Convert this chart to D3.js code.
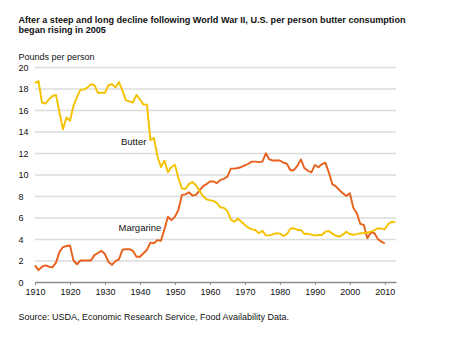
<!DOCTYPE html>
<html>
<head>
<meta charset="utf-8">
<script src="https://cdn.jsdelivr.net/npm/d3@7"></script>
<style>
  body { margin: 0; background: #fff; }
  svg { display: block; font-family: "Liberation Sans", Arial, sans-serif; }
</style>
</head>
<body>
<svg id="chart" width="450" height="345"></svg>
<script>
// Per person consumption, pounds
const butterYears = d3.range(1910, 2014);
const butter = [
  18.5, 18.7, 16.7, 16.6, 17.0, 17.3, 17.4, 15.8, 14.2, 15.3,   // 1910s
  15.0, 16.4, 17.2, 17.9, 17.9, 18.1, 18.4, 18.3, 17.6, 17.6,   // 1920s
  17.6, 18.3, 18.4, 18.1, 18.6, 17.8, 16.9, 16.8, 16.7, 17.4,   // 1930s
  17.0, 16.5, 16.5, 13.2, 13.4, 11.7, 10.7, 11.3, 10.2, 10.7,   // 1940s
  10.9, 9.65, 8.7, 8.65, 9.1, 9.3, 9.0, 8.5, 8.0, 7.7,          // 1950s
  7.6, 7.55, 7.35, 6.95, 6.9, 6.6, 5.8, 5.6, 5.88, 5.6,         // 1960s
  5.3, 5.05, 4.9, 4.84, 4.53, 4.77, 4.34, 4.34, 4.43, 4.55,     // 1970s
  4.5, 4.28, 4.45, 4.96, 5.0, 4.84, 4.84, 4.47, 4.5, 4.4,       // 1980s
  4.31, 4.37, 4.37, 4.68, 4.74, 4.5, 4.3, 4.22, 4.4, 4.68,      // 1990s
  4.47, 4.4, 4.45, 4.53, 4.53, 4.6, 4.68, 4.8, 5.0, 4.96,       // 2000s
  4.9, 5.4, 5.6, 5.55                                           // 2010s
];
const margarineYears = d3.range(1910, 2011);
const margarine = [
  1.55, 1.1, 1.42, 1.55, 1.42, 1.36, 1.8, 2.8, 3.25, 3.35,      // 1910s
  3.4, 2.0, 1.65, 2.0, 2.0, 2.0, 2.0, 2.5, 2.7, 2.9,            // 1920s
  2.6, 1.86, 1.6, 1.95, 2.1, 3.0, 3.05, 3.05, 2.9, 2.35,        // 1930s
  2.35, 2.67, 3.0, 3.66, 3.6, 3.9, 3.84, 4.9, 6.07, 5.75,       // 1940s
  6.07, 6.7, 8.1, 8.15, 8.35, 8.05, 8.1, 8.5, 8.9, 9.1,         // 1950s
  9.35, 9.35, 9.2, 9.5, 9.6, 9.8, 10.55, 10.55, 10.6, 10.7,     // 1960s
  10.85, 11.0, 11.2, 11.2, 11.15, 11.2, 11.97, 11.4, 11.3, 11.3,// 1970s
  11.3, 11.1, 11.0, 10.4, 10.4, 10.8, 11.4, 10.6, 10.35, 10.2,  // 1980s
  10.88, 10.67, 10.95, 11.1, 10.2, 9.1, 8.9, 8.56, 8.25, 8.0,   // 1990s
  8.25, 6.9, 6.4, 5.4, 5.3, 4.06, 4.6, 4.55, 4.0, 3.75,         // 2000s
  3.6
];
const xTicks = d3.range(1910, 2011, 10);
const yTicks = d3.range(0, 21, 2);
const titleLines = [
  "After a steep and long decline following World War II, U.S. per person butter consumption",
  "began rising in 2005"
];
const unitLabel = "Pounds per person";
const sourceText = "Source: USDA, Economic Research Service, Food Availability Data.";

const svg = d3.select("#chart");
const x = d3.scaleLinear().domain([1910, 2013.2]).range([35, 396]);
const y = d3.scaleLinear().domain([0, 20]).range([282, 67]);

// title
const title = svg.append("g").attr("font-weight", "bold").attr("font-size", 9.4).attr("fill", "#111");
const t1 = title.append("text").attr("x", 18.5).attr("y", 23).text(titleLines[0]);
const t2 = title.append("text").attr("x", 18.5).attr("y", 33).text(titleLines[1]);
const ratio = 387 / t1.node().getComputedTextLength();
t1.attr("textLength", 387).attr("lengthAdjust", "spacingAndGlyphs");
t2.attr("textLength", t2.node().getComputedTextLength() * ratio).attr("lengthAdjust", "spacingAndGlyphs");

svg.append("text").attr("x", 18.5).attr("y", 59.5)
  .attr("font-size", 9).attr("fill", "#111").text(unitLabel);

// gridlines + y labels
const gy = svg.append("g").attr("transform", "translate(35,0)")
  .call(d3.axisRight(y).tickValues(yTicks).tickSize(361).tickFormat(d3.format("d")));
gy.select(".domain").remove();
gy.selectAll(".tick line").attr("stroke", "#dcdcdc").attr("stroke-width", 1.5)
  .filter(d => d === 0).remove();
gy.selectAll(".tick text").attr("x", -16.5).attr("dy", "0.34em")
  .attr("text-anchor", "start").attr("font-size", 9).attr("fill", "#111");

// x axis
const gx = svg.append("g").attr("transform", `translate(0,${y(0)})`)
  .call(d3.axisBottom(x).tickValues(xTicks).tickSize(3).tickSizeOuter(0).tickFormat(d3.format("d")));
gx.select(".domain").attr("stroke", "#8c8c8c").attr("stroke-width", 1.6);
gx.selectAll(".tick line").attr("stroke", "#8c8c8c").attr("stroke-width", 1);
gx.selectAll(".tick text").attr("y", 7).attr("font-size", 9).attr("fill", "#111");

// lines
const line = d3.line().x(d => x(d[0])).y(d => y(d[1])).curve(d3.curveLinear);
svg.append("path").datum(margarineYears.map((yr, i) => [yr, margarine[i]]))
  .attr("fill", "none").attr("stroke", "#e8601c").attr("stroke-width", 1.9)
  .attr("stroke-linejoin", "round").attr("d", line);
svg.append("path").datum(butterYears.map((yr, i) => [yr, butter[i]]))
  .attr("fill", "none").attr("stroke", "#f5c200").attr("stroke-width", 1.9)
  .attr("stroke-linejoin", "round").attr("d", line);

// series labels
svg.append("text").attr("x", 121).attr("y", 144.5).attr("font-size", 9.5).attr("fill", "#111").text("Butter");
svg.append("text").attr("x", 118.5).attr("y", 231).attr("font-size", 9.5).attr("fill", "#111").text("Margarine");

svg.append("text").attr("x", 18.5).attr("y", 319.5)
  .attr("font-size", 9).attr("fill", "#111").text(sourceText);
</script>
</body>
</html>
